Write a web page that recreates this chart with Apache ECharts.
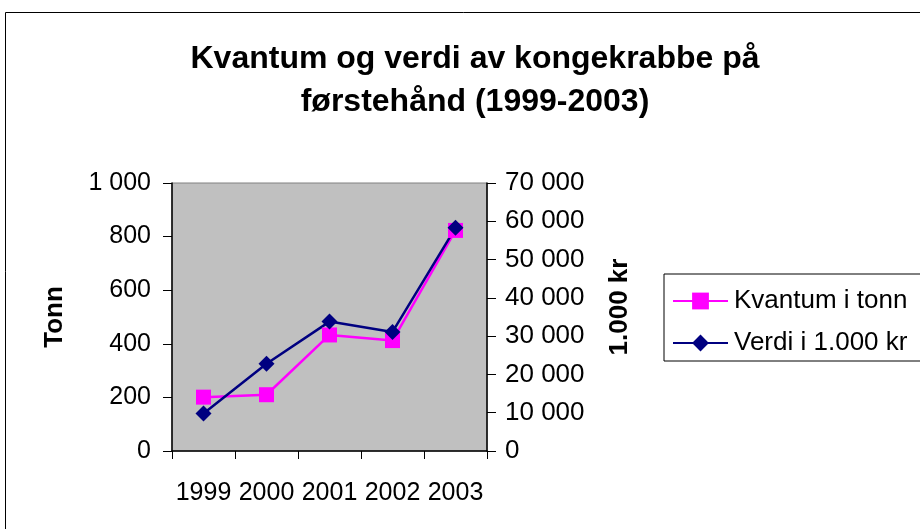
<!DOCTYPE html>
<html><head><meta charset="utf-8">
<script src="https://cdn.jsdelivr.net/npm/echarts@6/dist/echarts.min.js"></script>
<style>html,body{margin:0;padding:0;background:#fff}#c{width:920px;height:529px}</style>
</head><body><div id="c"></div>
<script>
const years = ['1999', '2000', '2001', '2002', '2003'];
const kvantum = [201, 210, 433, 412, 823];
const verdi = [9800, 22800, 33800, 31100, 58300];
const titleText = 'Kvantum og verdi av kongekrabbe på\nførstehånd (1999-2003)';
const seriesNames = ['Kvantum i tonn', 'Verdi i 1.000 kr'];
const leftName = 'Tonn';
const rightName = '1.000 kr';

function fmt(v) { return String(v).replace(/\B(?=(\d{3})+(?!\d))/g, ' '); }
const font = '"Liberation Sans", Arial, sans-serif';
const chart = echarts.init(document.getElementById('c'));
chart.setOption({
  animation: false,
  textStyle: { fontFamily: font },
  graphic: [{ type: 'rect', shape: { x: 5.5, y: 12.5, width: 1000, height: 1000 }, style: { fill: 'none', stroke: '#000', lineWidth: 1 }, silent: true }],
  title: { text: titleText, left: 470, textAlign: 'center', top: 33,
    textStyle: { fontFamily: font, fontSize: 32, fontWeight: 'bold', color: '#000', lineHeight: 43 } },
  legend: {
    left: 664, top: 274, orient: 'vertical', itemWidth: 55, itemHeight: 21, itemGap: 16,
    borderColor: '#000', borderWidth: 1, padding: [14, 40, 5, 8],
    textStyle: { fontFamily: font, fontSize: 26, color: '#000', padding: [0, 0, 0, 1] },
    data: seriesNames
  },
  grid: { left: 172, right: 433, top: 183, bottom: 78, show: true, backgroundColor: '#C0C0C0', borderColor: '#808080', borderWidth: 1 },
  xAxis: { type: 'category', data: years, boundaryGap: true,
    axisLine: { lineStyle: { color: '#000', width: 1.5 } },
    axisTick: { show: true, length: 8, lineStyle: { color: '#000' } },
    axisLabel: { color: '#000', fontSize: 25, margin: 30, interval: 0, hideOverlap: false, fontFamily: font } },
  yAxis: [
    { type: 'value', min: 0, max: 1000, interval: 200, position: 'left',
      name: leftName, nameLocation: 'middle', nameGap: 104, nameRotate: 90,
      nameTextStyle: { fontFamily: font, fontSize: 26, fontWeight: 'bold', color: '#000' },
      axisLine: { show: true, lineStyle: { color: '#000', width: 1.5 } },
      axisTick: { show: true, length: 9, lineStyle: { color: '#000' } },
      splitLine: { show: false },
      axisLabel: { color: '#000', fontSize: 25, margin: 21, formatter: fmt, fontFamily: font } },
    { type: 'value', min: 0, max: 70000, interval: 10000, position: 'right',
      name: rightName, nameLocation: 'middle', nameGap: 120, nameRotate: 90,
      nameTextStyle: { fontFamily: font, fontSize: 26, fontWeight: 'bold', color: '#000', padding: [0, 0, 0, 20] },
      axisLine: { show: true, lineStyle: { color: '#000', width: 1.5 } },
      axisTick: { show: true, length: 9, lineStyle: { color: '#000' } },
      splitLine: { show: false },
      axisLabel: { color: '#000', fontSize: 26, margin: 18, formatter: fmt, fontFamily: font } }
  ],
  series: [
    { name: seriesNames[0], type: 'line', yAxisIndex: 0, data: kvantum,
      symbol: 'rect', symbolSize: 15, showAllSymbol: true,
      lineStyle: { color: '#FF00FF', width: 2.5 }, itemStyle: { color: '#FF00FF' } },
    { name: seriesNames[1], type: 'line', yAxisIndex: 1, data: verdi,
      symbol: 'diamond', symbolSize: 16, showAllSymbol: true,
      lineStyle: { color: '#000080', width: 2.5 }, itemStyle: { color: '#000080' } }
  ]
});
</script></body></html>
